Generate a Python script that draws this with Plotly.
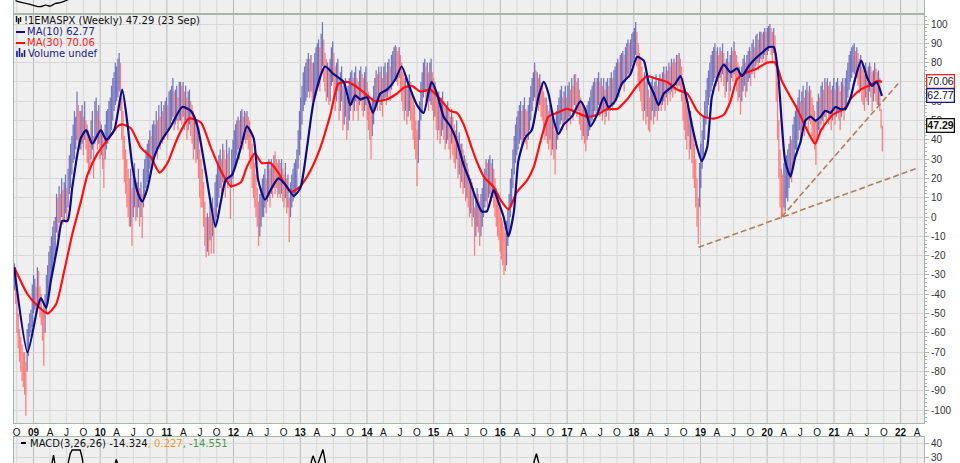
import pandas as pd
import plotly.graph_objects as go

# ---------------- data ----------------
BAR_START = "2008-09-18"   # first weekly bar, one bar every 7 days
LOW = [
    -38, -45, -60, -68, -75, -80, -85, -88, -92, -103, -80, -72, -62,
    -60, -57, -50, -48, -50, -46, -45, -52, -56, -64, -77, -60, -50,
    -45, -40, -38, -30, -28, -22, -20, -8, -10, -3, -6, 0, -4,
    -2, 2, -3, 5, 12, 15, 22, 28, 30, 35, 40, 38, 35,
    35, 38, 32, 40, 35, 28, 25, 22, 30, 35, 20, 38, 40,
    35, 38, 30, 32, 25, 15, 30, 35, 38, 40, 42, 45, 50,
    55, 58, 60, 62, 65, 55, 40, 30, 18, 12, 5, 0, -5,
    -5, -15, 0, 5, -2, 0, 5, -5, 0, -11, 5, 10, 15,
    18, 20, 25, 22, 28, 30, 32, 35, 30, 38, 35, 40, 38,
    40, 42, 45, 40, 45, 48, 50, 52, 45, 48, 50, 45, 50,
    50, 48, 52, 45, 50, 40, 45, 48, 42, 38, 30, 35, 28,
    30, 20, 10, 5, 5, -5, -15, -21, -18, -20, -12, -19, -10,
    -19, -5, 0, 5, 10, 15, 12, 18, 15, 10, 20, 15, 18,
    -1, 15, 20, 25, 28, 32, 35, 30, 38, 40, 35, 40, 38,
    40, 35, 30, 25, 15, 10, 5, 0, -5, -15, -10, -5, 0,
    0, 5, 2, 8, 10, 5, 12, 10, 15, 12, 15, 10, 12,
    10, 12, 8, 5, 10, 2, 5, -13, 0, 5, 8, 10, 12,
    15, 25, 32, 40, 48, 55, 58, 60, 62, 65, 62, 65, 60,
    60, 62, 65, 68, 70, 65, 75, 78, 70, 65, 60, 62, 58,
    60, 68, 70, 62, 55, 60, 65, 50, 55, 60, 45, 48, 52,
    40, 45, 50, 55, 58, 50, 55, 60, 55, 50, 58, 60, 55,
    52, 55, 58, 50, 45, 40, 30, 42, 48, 55, 58, 55, 60,
    55, 58, 52, 60, 62, 58, 62, 65, 60, 66, 68, 70, 72,
    70, 68, 72, 65, 60, 55, 50, 55, 48, 52, 55, 50, 45,
    40, 35, 30, 16, 28, 40, 50, 55, 62, 65, 60, 62, 55,
    60, 58, 55, 50, 52, 45, 40, 45, 38, 42, 45, 40, 35,
    38, 40, 35, 30, 38, 32, 28, 25, 30, 20, 22, 15, 18,
    12, 15, 8, 10, 5, 0, 2, -5, 0, -20, -10, -5, -8,
    -15, -10, -5, 0, 5, 8, 5, 10, 12, 8, 10, 5, 0,
    -5, -10, -12, -18, -22, -25, -30, -28, -25, -15, -8, 0, 5,
    15, 22, 28, 32, 35, 38, 40, 36, 40, 42, 38, 35, 40,
    45, 50, 55, 60, 62, 58, 60, 55, 58, 52, 50, 45, 40,
    42, 38, 35, 40, 32, 35, 30, 22, 35, 40, 45, 48, 50,
    45, 48, 50, 45, 50, 52, 48, 55, 50, 58, 55, 52, 55,
    48, 45, 40, 42, 38, 34, 40, 42, 45, 48, 50, 52, 55,
    52, 55, 58, 52, 55, 50, 55, 48, 52, 55, 50, 55, 58,
    55, 58, 60, 62, 65, 62, 66, 68, 70, 65, 70, 72, 74,
    72, 75, 78, 80, 82, 84, 78, 70, 65, 60, 55, 50, 55,
    48, 52, 45, 44, 50, 55, 48, 52, 55, 50, 55, 58, 55,
    58, 60, 55, 62, 58, 64, 60, 65, 62, 66, 64, 68, 66,
    68, 65, 60, 50, 45, 40, 35, 42, 30, 35, 28, 20, 15,
    5, -5, -14, 5, 15, 25, 32, 40, 48, 52, 58, 62, 65,
    68, 70, 72, 68, 70, 65, 72, 70, 74, 68, 62, 65, 70,
    60, 65, 72, 70, 74, 68, 65, 60, 62, 53, 60, 65, 68,
    62, 65, 70, 72, 68, 74, 76, 72, 78, 80, 76, 80, 82,
    80, 82, 84, 80, 84, 86, 88, 84, 80, 85, 78, 60, 40,
    20, 5, -1, 0, 5, 3, 10, 8, 15, 20, 18, 25, 30,
    35, 32, 40, 45, 38, 45, 50, 42, 48, 52, 45, 50, 48,
    42, 38, 35, 27, 40, 45, 42, 48, 50, 45, 52, 50, 55,
    48, 52, 45, 50, 55, 48, 52, 55, 50, 45, 52, 55, 50,
    55, 58, 62, 66, 70, 72, 75, 74, 70, 72, 68, 64, 66,
    60, 58, 55, 62, 60, 58, 65, 62, 55, 60, 64, 60, 58,
    58, 55, 46, 34,
]
HIGH = [
    -24, -30, -40, -50, -58, -62, -66, -70, -70, -75, -58, -55, -50,
    -48, -35, -30, -32, -36, -26, -28, -36, -40, -48, -45, -40, -30,
    -25, -18, -15, -10, -5, -2, 0, 12, 10, 16, 12, 20, 14,
    18, 22, 15, 25, 32, 38, 42, 48, 55, 52, 65, 58, 55,
    55, 58, 52, 60, 50, 48, 45, 40, 50, 55, 42, 60, 62,
    55, 58, 50, 48, 45, 40, 48, 55, 56, 60, 62, 68, 72,
    75, 80, 78, 82, 85, 80, 62, 55, 42, 35, 30, 25, 20,
    25, 15, 22, 28, 20, 18, 25, 15, 18, 12, 25, 30, 35,
    38, 40, 45, 42, 48, 50, 48, 55, 50, 58, 52, 60, 55,
    58, 60, 62, 58, 65, 66, 68, 72, 65, 66, 68, 62, 70,
    70, 68, 70, 65, 68, 62, 65, 66, 60, 58, 55, 52, 50,
    50, 42, 35, 30, 25, 18, 8, 0, 2, 0, 8, 2, 10,
    5, 18, 22, 28, 32, 35, 30, 38, 35, 30, 40, 33, 36,
    22, 35, 40, 45, 48, 50, 52, 50, 55, 56, 52, 55, 54,
    55, 52, 50, 45, 38, 32, 28, 22, 15, 8, 12, 15, 20,
    22, 25, 20, 28, 30, 25, 30, 28, 32, 34, 30, 28, 30,
    28, 30, 25, 22, 28, 20, 22, 10, 18, 22, 25, 28, 30,
    35, 45, 55, 62, 68, 75, 78, 80, 82, 85, 82, 84, 80,
    80, 85, 88, 90, 92, 88, 95, 101, 92, 85, 82, 80, 78,
    82, 88, 91, 85, 78, 80, 82, 72, 75, 78, 68, 70, 72,
    62, 68, 72, 75, 76, 72, 75, 78, 72, 70, 76, 78, 74,
    72, 75, 78, 70, 65, 60, 55, 62, 68, 72, 76, 74, 78,
    75, 78, 72, 78, 80, 75, 80, 82, 78, 84, 86, 88, 89,
    88, 86, 88, 84, 80, 75, 72, 74, 68, 70, 74, 70, 65,
    62, 58, 50, 45, 50, 60, 70, 75, 80, 82, 78, 80, 75,
    80, 82, 75, 72, 70, 65, 62, 65, 58, 62, 65, 60, 58,
    58, 60, 55, 52, 56, 52, 48, 45, 50, 42, 44, 38, 38,
    35, 32, 30, 28, 25, 22, 20, 18, 15, 5, 10, 15, 12,
    8, 12, 15, 20, 25, 30, 28, 30, 32, 28, 30, 25, 20,
    15, 12, 8, 5, 0, -2, -5, -8, -2, 5, 12, 20, 25,
    35, 42, 48, 52, 55, 58, 60, 55, 58, 62, 56, 55, 58,
    62, 68, 72, 75, 80, 76, 75, 72, 74, 70, 68, 65, 62,
    62, 58, 55, 58, 52, 55, 50, 45, 55, 58, 62, 66, 68,
    62, 65, 68, 62, 68, 70, 66, 72, 68, 74, 74, 70, 72,
    66, 62, 60, 58, 56, 55, 58, 60, 62, 66, 68, 70, 72,
    70, 72, 75, 70, 72, 68, 72, 66, 70, 72, 68, 72, 75,
    72, 76, 78, 80, 82, 80, 84, 85, 86, 84, 88, 90, 92,
    90, 92, 95, 96, 98, 101, 96, 90, 85, 82, 78, 72, 75,
    70, 72, 66, 62, 70, 72, 68, 70, 74, 68, 72, 74, 72,
    75, 78, 74, 78, 76, 80, 78, 82, 80, 82, 80, 84, 84,
    85, 82, 78, 72, 68, 62, 58, 60, 52, 55, 50, 45, 38,
    30, 20, 10, 28, 38, 45, 52, 60, 66, 72, 76, 80, 84,
    86, 88, 90, 86, 88, 84, 88, 86, 90, 85, 80, 82, 86,
    80, 84, 88, 86, 91, 86, 84, 80, 78, 72, 78, 82, 84,
    80, 84, 86, 88, 86, 90, 92, 88, 94, 95, 92, 96, 96,
    95, 96, 98, 96, 98, 99, 100, 98, 96, 98, 94, 85, 70,
    50, 35, 25, 22, 28, 30, 32, 35, 38, 42, 40, 48, 52,
    55, 58, 62, 66, 60, 65, 68, 62, 66, 70, 65, 68, 66,
    62, 58, 55, 50, 60, 64, 62, 68, 70, 66, 72, 70, 72,
    68, 70, 66, 68, 72, 66, 70, 72, 68, 65, 70, 72, 68,
    72, 76, 80, 84, 86, 88, 89, 90, 86, 88, 85, 82, 84,
    78, 76, 74, 80, 76, 78, 80, 78, 75, 76, 80, 77, 75,
    76, 72, 56, 47.29,
]

# moving averages, read at (decimal year, value)
MA10_T = [2008.71, 2008.91,
          2009.06, 2009.11, 2009.19, 2009.26, 2009.36, 2009.43, 2009.51, 2009.58, 2009.66, 2009.71, 2009.79, 2009.88,
          2010.01, 2010.09, 2010.21, 2010.33, 2010.41, 2010.48, 2010.56, 2010.63, 2010.71, 2010.81, 2010.91,
          2011.06, 2011.23, 2011.36, 2011.46, 2011.58, 2011.73, 2011.81, 2011.88, 2011.98,
          2012.11, 2012.20, 2012.30, 2012.37, 2012.47, 2012.57, 2012.67, 2012.77, 2012.90,
          2013.00, 2013.10, 2013.20, 2013.37, 2013.50, 2013.65, 2013.75, 2013.82, 2013.90,
          2014.00, 2014.09, 2014.20, 2014.30, 2014.42, 2014.52, 2014.62, 2014.75, 2014.85, 2014.92, 2014.97,
          2015.05, 2015.15, 2015.25, 2015.35, 2015.45, 2015.55, 2015.65, 2015.72, 2015.80, 2015.90, 2015.97,
          2016.05, 2016.12, 2016.20, 2016.27, 2016.37, 2016.47, 2016.57, 2016.65, 2016.72, 2016.80, 2016.87, 2016.95,
          2017.07, 2017.20, 2017.27, 2017.35, 2017.45, 2017.55, 2017.62, 2017.72, 2017.82, 2017.95,
          2018.05, 2018.15, 2018.22, 2018.30, 2018.37, 2018.45, 2018.55, 2018.62, 2018.70, 2018.80, 2018.87, 2018.95,
          2019.02, 2019.10, 2019.17, 2019.25, 2019.35, 2019.45, 2019.55, 2019.62, 2019.72, 2019.82, 2019.92,
          2020.02, 2020.10, 2020.17, 2020.22, 2020.27, 2020.35, 2020.42, 2020.50, 2020.57, 2020.65, 2020.72, 2020.80, 2020.87, 2020.95,
          2021.02, 2021.10, 2021.17, 2021.25, 2021.32, 2021.41, 2021.50, 2021.57, 2021.64, 2021.72]
MA10_V = [-26, -70,
          -47, -42, -47, -33, -15, -2, -2, 15, 33, 41, 45, 38,
          45, 40, 45, 66, 48, 27, 13, 8, 15, 31, 39,
          47, 57, 55, 47, 24, -5, 8, 19, 22,
          36, 47, 41, 19, 9, 15, 20, 17, 11,
          15, 36, 60, 78, 74, 70, 58, 63, 61,
          62, 54, 64, 66, 71, 78, 69, 58, 54, 64, 70,
          64, 52, 47, 39, 27, 18, 8, 3, 3, 14, 8,
          0, -10, 2, 29, 41, 45, 62, 70, 64, 50, 43, 48,
          52, 60, 56, 47, 53, 62, 57, 60, 69, 74,
          83, 81, 70, 64, 58, 64, 67, 69, 73, 60, 48, 36,
          29, 36, 62, 72, 79, 75, 77, 73, 78, 82, 85,
          88, 88, 72, 48, 29, 21, 31, 39, 50, 52, 50, 52, 55, 54,
          57, 56, 56, 62, 72, 81, 72, 68, 70, 62.77]

MA30_T = [2008.71, 2008.91,
          2009.06, 2009.21, 2009.34, 2009.46, 2009.58, 2009.71, 2009.81, 2009.96,
          2010.11, 2010.26, 2010.33, 2010.46, 2010.61, 2010.76, 2010.89,
          2011.01, 2011.16, 2011.33, 2011.51, 2011.66, 2011.81, 2011.96,
          2012.11, 2012.20, 2012.32, 2012.42, 2012.55, 2012.67, 2012.77, 2012.87,
          2013.00, 2013.15, 2013.30, 2013.45, 2013.57, 2013.70, 2013.82, 2013.97,
          2014.12, 2014.30, 2014.45, 2014.55, 2014.67, 2014.80, 2014.95,
          2015.10, 2015.25, 2015.35, 2015.45, 2015.57, 2015.65, 2015.75, 2015.90,
          2016.02, 2016.12, 2016.25, 2016.40, 2016.50, 2016.60, 2016.72, 2016.85,
          2017.00, 2017.15, 2017.30, 2017.45, 2017.60, 2017.75, 2017.90,
          2018.05, 2018.20, 2018.35, 2018.50, 2018.65, 2018.80, 2018.95,
          2019.05, 2019.20, 2019.35, 2019.45, 2019.55, 2019.70, 2019.85,
          2020.00, 2020.12, 2020.22, 2020.32, 2020.45, 2020.57, 2020.65, 2020.72, 2020.80, 2020.90,
          2021.00, 2021.15, 2021.27, 2021.40, 2021.52, 2021.65, 2021.72]
MA30_V = [-26, -40,
          -46, -50, -45, -28, -9, 8, 22, 33,
          40, 47, 48, 46, 36, 31, 23,
          28, 41, 51, 49, 36, 24, 16,
          18, 26, 33, 28, 28, 23, 17, 13,
          16, 24, 36, 53, 69, 70, 68, 64,
          60, 61, 64, 67, 68, 65, 66,
          61, 55, 54, 48, 36, 28.5, 21, 15.5,
          8, 4, 13, 19, 26, 39, 52, 54,
          56, 54, 52, 53, 56, 56, 61,
          68, 73, 71.5, 70, 66, 64, 55,
          52, 51, 53, 60, 71.5, 75, 77,
          80, 80, 70.5, 64, 56, 47, 41.5, 38, 44.6, 49.7,
          53.4, 56, 62, 66, 68, 70.5, 70.06]

# MACD(3,26,26) line, only its peaks reach into the visible strip of the lower panel
MACD_T = [2008.71, 2009.25, 2009.30, 2009.34, 2009.49, 2009.55, 2009.58, 2009.70, 2009.73, 2009.76,
          2010.20, 2010.24, 2010.29, 2013.12, 2013.19, 2013.25, 2013.34, 2013.40,
          2016.46, 2016.54, 2016.61, 2021.72]
MACD_V = [10, 20, 32, 20, 20, 33, 35.7, 35.7, 30, 20,
          20, 29, 22, 20, 31.5, 24, 36, 20,
          20, 33, 20, -14.324]

# price panel above (only its lowest strip is visible)
PRICE_T = [2008.73, 2008.80, 2008.88, 2008.97, 2009.10, 2009.18, 2009.25, 2009.33, 2009.40, 2009.52]
PRICE_V = [95, 84, 76, 66, 52, 64, 57, 76, 81, 102]

# dashed trend lines
TREND1_T = [2018.97, 2022.24]
TREND1_V = [-15.7, 25.2]
TREND2_T = [2020.22, 2022.00]
TREND2_V = [0.2, 70.6]

LAST_CLOSE, LAST_MA10, LAST_MA30 = 47.29, 62.77, 70.06
MACD_VALS = (-14.324, 0.227, -14.551)
Y_TICKS = list(range(-100, 101, 10))
X_START, X_END = "2008-09-16", "2022-05-09"

# ---------------- helpers ----------------
W, H = 960, 463
def px(x): return x / W
def py(y): return 1 - y / H

def yr2date(v):
    y = int(v)
    a = pd.Timestamp(year=y, month=1, day=1)
    b = pd.Timestamp(year=y + 1, month=1, day=1)
    return a + (b - a) * (v - y)

BORDER = "#a3b8ab"
GRID = "#d8d8d8"
YEARGRID = "#b9b9b9"
BG = "#efefef"

weeks = pd.date_range(BAR_START, periods=len(LOW), freq="7D")
assert len(LOW) == len(HIGH)

fig = go.Figure()

# weekly bars
bx = {True: [], False: []}
by = {True: [], False: []}
prev_mid = None
for d, lo, hi in zip(weeks, LOW, HIGH):
    mid = (lo + hi) / 2
    up = True if prev_mid is None else mid >= prev_mid
    prev_mid = mid
    bx[up] += [d, d, None]
    by[up] += [lo, hi, None]
fig.add_trace(go.Scatter(x=bx[True], y=by[True], mode="lines",
                         line=dict(color="rgba(88,88,178,0.8)", width=1.25),
                         hoverinfo="skip", showlegend=False, xaxis="x", yaxis="y"))
fig.add_trace(go.Scatter(x=bx[False], y=by[False], mode="lines",
                         line=dict(color="rgba(255,95,95,0.78)", width=1.25),
                         hoverinfo="skip", showlegend=False, xaxis="x", yaxis="y"))

# moving averages
fig.add_trace(go.Scatter(x=[yr2date(t) for t in MA30_T], y=MA30_V, mode="lines",
                         line=dict(color="#ff0f0f", width=2.2, shape="spline", smoothing=0.6),
                         showlegend=False, xaxis="x", yaxis="y"))
fig.add_trace(go.Scatter(x=[yr2date(t) for t in MA10_T], y=MA10_V, mode="lines",
                         line=dict(color="#0c0c86", width=2.2, shape="spline", smoothing=0.6),
                         showlegend=False, xaxis="x", yaxis="y"))

# trend lines
for T, V in ((TREND1_T, TREND1_V), (TREND2_T, TREND2_V)):
    fig.add_trace(go.Scatter(x=[yr2date(t) for t in T], y=V, mode="lines",
                             line=dict(color="#b57d58", width=1.6, dash="6px,3px"),
                             showlegend=False, xaxis="x", yaxis="y"))

# MACD panel
fig.add_trace(go.Scatter(x=[yr2date(t) for t in MACD_T], y=MACD_V, mode="lines",
                         line=dict(color="#000000", width=1.4),
                         showlegend=False, xaxis="x2", yaxis="y2"))

# price panel
fig.add_trace(go.Scatter(x=[yr2date(t) for t in PRICE_T], y=PRICE_V, mode="lines",
                         line=dict(color="#000000", width=1.3, shape="spline"),
                         showlegend=False, xaxis="x3", yaxis="y3"))

# ---------------- axes ----------------
qdates = pd.date_range("2008-10-01", "2022-04-01", freq="QS")
ticktext = []
for d in qdates:
    if d.month == 1:
        ticktext.append("<b>%02d</b>" % (d.year % 100))
    else:
        ticktext.append({4: "A", 7: "J", 10: "O"}[d.month])

xdom = [px(14), px(924)]
common_x = dict(type="date", range=[X_START, X_END], domain=xdom, showgrid=False,
                zeroline=False, showline=True, mirror=True, linecolor=BORDER, linewidth=1)

fig.update_layout(
    width=W, height=H, margin=dict(l=0, r=0, t=0, b=0),
    paper_bgcolor="white", plot_bgcolor=BG, showlegend=False,
    font=dict(family="Liberation Sans, Arial", size=10, color="#222"),
    xaxis=dict(common_x, anchor="y", tickvals=list(qdates), ticktext=ticktext,
               ticks="outside", ticklen=0, tickfont=dict(size=10, color="#111")),
    yaxis=dict(domain=[py(423), py(14)], range=[-106.7, 105.2], side="right", anchor="x",
               tickvals=Y_TICKS, ticktext=[str(v) for v in Y_TICKS],
               showgrid=True, gridcolor=GRID, gridwidth=1, zeroline=False,
               showline=True, mirror=True, linecolor=BORDER,
               ticks="outside", ticklen=4, tickcolor=BORDER, ticklabeloverflow="allow",
               minor=dict(dtick=2, ticks="outside", ticklen=2, tickcolor=BORDER, showgrid=False),
               tickfont=dict(size=10, color="#333")),
    xaxis2=dict(common_x, anchor="y2", matches="x", showticklabels=False, ticks=""),
    yaxis2=dict(domain=[0, py(437)], range=[26.4, 45], side="right", anchor="x2",
                tickvals=[30, 40], ticktext=["30", "40"], showgrid=True, gridcolor=GRID,
                zeroline=False, showline=True, mirror=True, linecolor=BORDER,
                ticks="outside", ticklen=4, tickcolor=BORDER, ticklabeloverflow="allow",
                tickfont=dict(size=10, color="#333")),
    xaxis3=dict(common_x, anchor="y3", matches="x", showticklabels=False, ticks=""),
    yaxis3=dict(domain=[py(14), 1], range=[0, 100], side="right", anchor="x3",
                showticklabels=False, showgrid=False, zeroline=False,
                showline=True, mirror=True, linecolor=BORDER),
)

# vertical grid lines (quarters light, years darker) in every panel
shapes = []
for d in qdates:
    col = YEARGRID if d.month == 1 else GRID
    for xr, yr in (("x", "y domain"), ("x2", "y2 domain"), ("x3", "y3 domain")):
        shapes.append(dict(type="line", xref=xr, yref=yr, x0=d, x1=d, y0=0, y1=1,
                           line=dict(color=col, width=1), layer="below"))

# legend markers (top-left)
shapes.append(dict(type="line", xref="paper", yref="paper", x0=px(16), x1=px(25), y0=py(32), y1=py(32),
                   line=dict(color="#0c0c86", width=2)))
shapes.append(dict(type="line", xref="paper", yref="paper", x0=px(16), x1=px(25), y0=py(43), y1=py(43),
                   line=dict(color="#ff0f0f", width=2)))
for xx, y0, y1 in ((17, 57, 51), (19.5, 57, 48), (22, 57, 53), (24.5, 57, 50)):
    shapes.append(dict(type="line", xref="paper", yref="paper", x0=px(xx), x1=px(xx), y0=py(y0), y1=py(y1),
                       line=dict(color="#1a1a8a", width=1.6)))
for xx, y0, y1 in ((16.5, 22, 16), (18.5, 24, 18), (20.5, 22, 17)):
    shapes.append(dict(type="line", xref="paper", yref="paper", x0=px(xx), x1=px(xx), y0=py(y0), y1=py(y1),
                       line=dict(color="#111", width=1.4)))
shapes.append(dict(type="line", xref="paper", yref="paper", x0=px(21), x1=px(26), y0=py(443), y1=py(443),
                   line=dict(color="#000", width=2)))
fig.update_layout(shapes=shapes)

# ---------------- texts ----------------
LF = "DejaVu Sans"
ann = []
ann.append(dict(x=px(21.5), y=py(20), xref="paper", yref="paper", xanchor="left", yanchor="middle",
                text="!1EMASPX (Weekly) %.2f (23 Sep)" % LAST_CLOSE, showarrow=False,
                font=dict(family=LF, size=10, color="#111")))
ann.append(dict(x=px(25), y=py(32), xref="paper", yref="paper", xanchor="left", yanchor="middle",
                text="MA(10) %.2f" % LAST_MA10, showarrow=False, font=dict(family=LF, size=10, color="#1a1a8a")))
ann.append(dict(x=px(25), y=py(42.5), xref="paper", yref="paper", xanchor="left", yanchor="middle",
                text="MA(30) %.2f" % LAST_MA30, showarrow=False, font=dict(family=LF, size=10, color="#ff1a1a")))
ann.append(dict(x=px(25.5), y=py(53), xref="paper", yref="paper", xanchor="left", yanchor="middle",
                text="Volume undef", showarrow=False, font=dict(family=LF, size=10, color="#1a1a8a")))
ann.append(dict(x=px(27.5), y=py(443.5), xref="paper", yref="paper", xanchor="left", yanchor="middle",
                text="MACD(3,26,26) %.3f<span style='color:#f39a1e'>, %.3f</span>"
                     "<span style='color:#4a9a4a'>, %.3f</span>" % MACD_VALS,
                showarrow=False, font=dict(family=LF, size=10, color="#111")))

# last-value boxes on the right axis
for val, col, bold in ((LAST_MA30, "#ff2020", False), (LAST_MA10, "#1a1a8a", False), (LAST_CLOSE, "#111111", True)):
    txt = "%.2f" % val
    ann.append(dict(x=px(926), y=val, xref="paper", yref="y", xanchor="left", yanchor="middle",
                    text="<b>%s</b>" % txt if bold else txt, showarrow=False,
                    bgcolor="white", bordercolor=col, borderwidth=1.3, borderpad=0,
                    font=dict(family="Liberation Sans, Arial", size=10.5, color="#111")))
fig.update_layout(annotations=ann)

fig.write_html("out.html", config={"displayModeBar": False},
               post_script="document.body.style.margin='0';document.body.style.overflow='hidden';")
